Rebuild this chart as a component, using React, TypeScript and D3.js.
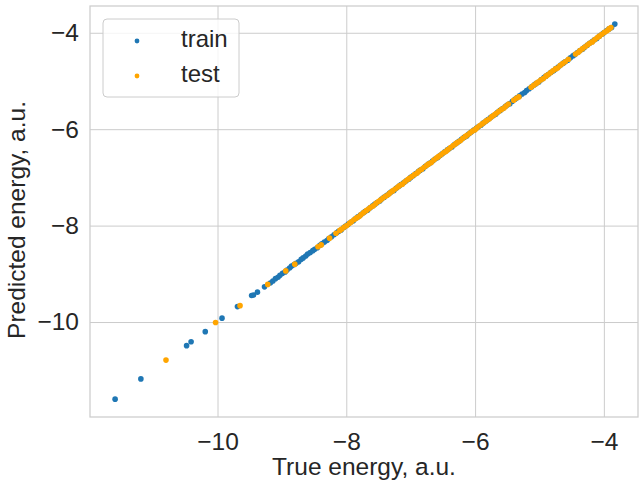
import React, { useEffect, useRef } from "react";
import * as d3 from "d3";

// [true energy, predicted energy]
const trainPoints: [number, number][] = [
  [-11.59, -11.6], [-11.19, -11.18], [-10.48, -10.49], [-10.41, -10.41], [-10.19, -10.2],
  [-9.93, -9.92], [-9.69, -9.68], [-9.47, -9.45], [-9.44, -9.44], [-9.38, -9.38],
  [-9.27, -9.27], [-9.18, -9.19], [-9.14, -9.15],
  [-9.1, -9.1], [-9.06, -9.07], [-9.03, -9.03], [-8.99, -8.99], [-8.95, -8.96], [-8.92, -8.92],
  [-8.88, -8.88], [-8.85, -8.84], [-8.81, -8.81], [-8.78, -8.78], [-8.74, -8.75], [-8.7, -8.7],
  [-8.67, -8.67], [-8.63, -8.63], [-8.6, -8.59], [-8.56, -8.56], [-8.52, -8.52], [-8.49, -8.49],
  [-8.45, -8.46], [-8.41, -8.41], [-8.38, -8.38], [-8.34, -8.34], [-8.3, -8.31], [-8.27, -8.27],
  [-8.23, -8.23], [-8.19, -8.19], [-8.15, -8.15], [-8.12, -8.12], [-8.08, -8.09], [-8.04, -8.04],
  [-8.01, -8.01], [-7.97, -7.97], [-7.93, -7.93], [-7.89, -7.9], [-7.86, -7.86], [-7.82, -7.82],
  [-7.78, -7.78], [-7.74, -7.74], [-7.71, -7.71], [-7.67, -7.68], [-7.63, -7.63], [-7.59, -7.59],
  [-7.56, -7.56], [-7.52, -7.52], [-7.48, -7.49], [-7.45, -7.45], [-7.41, -7.41], [-7.37, -7.37],
  [-7.33, -7.33], [-7.3, -7.3], [-7.26, -7.27], [-7.22, -7.22], [-7.18, -7.18], [-7.15, -7.15],
  [-7.11, -7.11], [-7.07, -7.07], [-7.03, -7.04], [-7.0, -7.0], [-6.96, -6.96], [-6.92, -6.92],
  [-6.88, -6.88], [-6.85, -6.85], [-6.81, -6.82], [-6.77, -6.77], [-6.73, -6.73], [-6.7, -6.7],
  [-6.66, -6.66], [-6.62, -6.62], [-6.58, -6.59], [-6.55, -6.55], [-6.51, -6.51], [-6.47, -6.47],
  [-6.43, -6.43], [-6.4, -6.4], [-6.36, -6.37], [-6.32, -6.32], [-6.28, -6.28], [-6.25, -6.25],
  [-6.21, -6.21], [-6.17, -6.17], [-6.13, -6.14], [-6.1, -6.1], [-6.06, -6.06], [-6.02, -6.02],
  [-5.98, -5.98], [-5.95, -5.95], [-5.91, -5.92], [-5.87, -5.87], [-5.83, -5.83], [-5.8, -5.8],
  [-5.76, -5.76], [-5.72, -5.72], [-5.68, -5.69], [-5.65, -5.65], [-5.61, -5.61], [-5.57, -5.57],
  [-5.53, -5.53], [-5.5, -5.5], [-5.46, -5.47], [-5.42, -5.42], [-5.38, -5.38], [-5.35, -5.35],
  [-5.31, -5.31], [-5.27, -5.27], [-5.23, -5.24], [-5.2, -5.2], [-5.16, -5.16], [-5.12, -5.12],
  [-5.08, -5.08], [-5.05, -5.05], [-5.01, -5.02], [-4.97, -4.97], [-4.93, -4.93], [-4.9, -4.9],
  [-4.86, -4.86], [-4.82, -4.82], [-4.78, -4.79], [-4.75, -4.75], [-4.71, -4.71], [-4.67, -4.67],
  [-4.63, -4.63], [-4.6, -4.6], [-4.56, -4.57], [-4.52, -4.52], [-4.48, -4.48], [-4.45, -4.45],
  [-4.41, -4.41], [-4.37, -4.37], [-4.33, -4.34], [-4.3, -4.3], [-4.26, -4.26], [-4.22, -4.22],
  [-4.18, -4.18], [-4.15, -4.15], [-4.11, -4.12], [-4.07, -4.07], [-4.03, -4.03], [-4.0, -4.0],
  [-3.96, -3.96], [-3.92, -3.92], [-3.88, -3.89], [-3.83, -3.82],
];

const testPoints: [number, number][] = [
  [-10.8, -10.79], [-10.03, -10.01], [-9.65, -9.66], [-9.22, -9.22], [-8.94, -8.94],
  [-8.8, -8.8], [-8.44, -8.44], [-8.39, -8.4], [-8.26, -8.26], [-8.16, -8.16],
  [-8.1, -8.1], [-8.07, -8.07], [-8.03, -8.03], [-7.99, -8.0], [-7.95, -7.95], [-7.92, -7.92],
  [-7.88, -7.88], [-7.84, -7.84], [-7.8, -7.81], [-7.77, -7.77], [-7.73, -7.73], [-7.69, -7.69],
  [-7.65, -7.65], [-7.62, -7.62], [-7.58, -7.59], [-7.54, -7.54], [-7.5, -7.5], [-7.47, -7.47],
  [-7.43, -7.43], [-7.39, -7.39], [-7.35, -7.36], [-7.32, -7.32], [-7.28, -7.28], [-7.24, -7.24],
  [-7.2, -7.2], [-7.17, -7.17], [-7.13, -7.14], [-7.09, -7.09], [-7.05, -7.05], [-7.02, -7.02],
  [-6.98, -6.98], [-6.94, -6.94], [-6.9, -6.91], [-6.87, -6.87], [-6.83, -6.83], [-6.79, -6.79],
  [-6.75, -6.75], [-6.72, -6.72], [-6.68, -6.69], [-6.64, -6.64], [-6.6, -6.6], [-6.57, -6.57],
  [-6.53, -6.53], [-6.49, -6.49], [-6.45, -6.46], [-6.42, -6.42], [-6.38, -6.38], [-6.34, -6.34],
  [-6.3, -6.3], [-6.27, -6.27], [-6.23, -6.24], [-6.19, -6.19], [-6.15, -6.15], [-6.12, -6.12],
  [-6.08, -6.08], [-6.04, -6.04], [-6.0, -6.01], [-5.97, -5.97], [-5.93, -5.93], [-5.89, -5.89],
  [-5.85, -5.85], [-5.82, -5.82], [-5.78, -5.79], [-5.74, -5.74], [-5.7, -5.7], [-5.67, -5.67],
  [-5.63, -5.63], [-5.59, -5.59], [-5.55, -5.56], [-5.52, -5.52], [-5.48, -5.48], [-5.4, -5.4],
  [-5.36, -5.36], [-5.32, -5.33], [-5.13, -5.13], [-5.09, -5.09], [-5.05, -5.05], [-5.02, -5.02],
  [-4.98, -4.98], [-4.94, -4.95], [-4.9, -4.9], [-4.87, -4.87], [-4.83, -4.83], [-4.79, -4.79],
  [-4.75, -4.75], [-4.72, -4.73], [-4.68, -4.68], [-4.64, -4.64], [-4.6, -4.6], [-4.55, -4.55],
  [-4.44, -4.44], [-4.4, -4.41], [-4.37, -4.37], [-4.33, -4.33], [-4.29, -4.29], [-4.25, -4.25],
  [-4.22, -4.22], [-4.18, -4.19], [-4.14, -4.14], [-4.1, -4.1], [-4.07, -4.07], [-4.03, -4.03],
  [-3.99, -3.99], [-3.95, -3.96], [-3.92, -3.92], [-3.89, -3.89],
];

const xTicks = [-10, -8, -6, -4];
const yTicks = [-10, -8, -6, -4];
const seriesNames = ["train", "test"];
const seriesColors = ["#1f77b4", "orange"];

const FONT = "'Liberation Sans', Arial, sans-serif";
const FS = "24.5px";

export default function App() {
  const ref = useRef<SVGSVGElement>(null);

  useEffect(() => {
    document.body.style.margin = "0";
    const W = 639, H = 481;
    const margin = { top: 6, right: 1, bottom: 64, left: 90 };
    const w = W - margin.left - margin.right,
      h = H - margin.top - margin.bottom;

    const svg = d3.select(ref.current);
    svg.selectAll("*").remove();
    const g = svg.append("g").attr("transform", `translate(${margin.left},${margin.top})`);

    const x = d3.scaleLinear().domain([-11.98, -3.47]).range([0, w]);
    const y = d3.scaleLinear().domain([-11.97, -3.445]).range([h, 0]);
    const fmt = d3.format("d");

    // grid + tick labels
    const xAxis = g.append("g")
      .attr("transform", `translate(0,${h})`)
      .call(d3.axisBottom(x).tickValues(xTicks).tickSize(-h).tickPadding(16).tickFormat(fmt as any));
    const yAxis = g.append("g")
      .call(d3.axisLeft(y).tickValues(yTicks).tickSize(-w).tickPadding(11).tickFormat(fmt as any));

    [xAxis, yAxis].forEach(ax => {
      ax.select(".domain").remove();
      ax.selectAll(".tick line").attr("stroke", "#cccccc").attr("stroke-width", 1);
      ax.selectAll(".tick text")
        .attr("fill", "#262626")
        .style("font-family", FONT)
        .style("font-size", FS);
    });

    // frame
    g.append("rect")
      .attr("width", w).attr("height", h)
      .attr("fill", "none").attr("stroke", "#cccccc").attr("stroke-width", 1.25);

    // scatter
    const series = [trainPoints, testPoints];
    series.forEach((pts, i) => {
      g.append("g").selectAll("circle")
        .data(pts)
        .join("circle")
        .attr("cx", d => x(d[0]))
        .attr("cy", d => y(d[1]))
        .attr("r", 2.8)
        .attr("fill", seriesColors[i]);
    });

    // axis labels
    svg.append("text")
      .attr("x", margin.left + w / 2)
      .attr("y", 475)
      .attr("text-anchor", "middle")
      .attr("fill", "#262626")
      .style("font-family", FONT)
      .style("font-size", FS)
      .text("True energy, a.u.");

    svg.append("text")
      .attr("transform", `translate(25,220) rotate(-90)`)
      .attr("text-anchor", "middle")
      .attr("fill", "#262626")
      .style("font-family", FONT)
      .style("font-size", FS)
      .text("Predicted energy, a.u.");

    // legend
    const lg = svg.append("g").attr("transform", "translate(103,19)");
    lg.append("rect")
      .attr("width", 136).attr("height", 78).attr("rx", 4)
      .attr("fill", "white").attr("fill-opacity", 0.8)
      .attr("stroke", "#cccccc").attr("stroke-width", 1);
    seriesNames.forEach((name, i) => {
      lg.append("circle")
        .attr("cx", 34).attr("cy", 22 + i * 35)
        .attr("r", 2.4)
        .attr("fill", seriesColors[i]);
      lg.append("text")
        .attr("x", 78).attr("y", 28 + i * 35)
        .attr("fill", "#262626")
        .style("font-family", FONT)
        .style("font-size", "24px")
        .text(name);
    });
  }, []);

  return <svg ref={ref} width={639} height={481} style={{ display: "block" }} />;
}
